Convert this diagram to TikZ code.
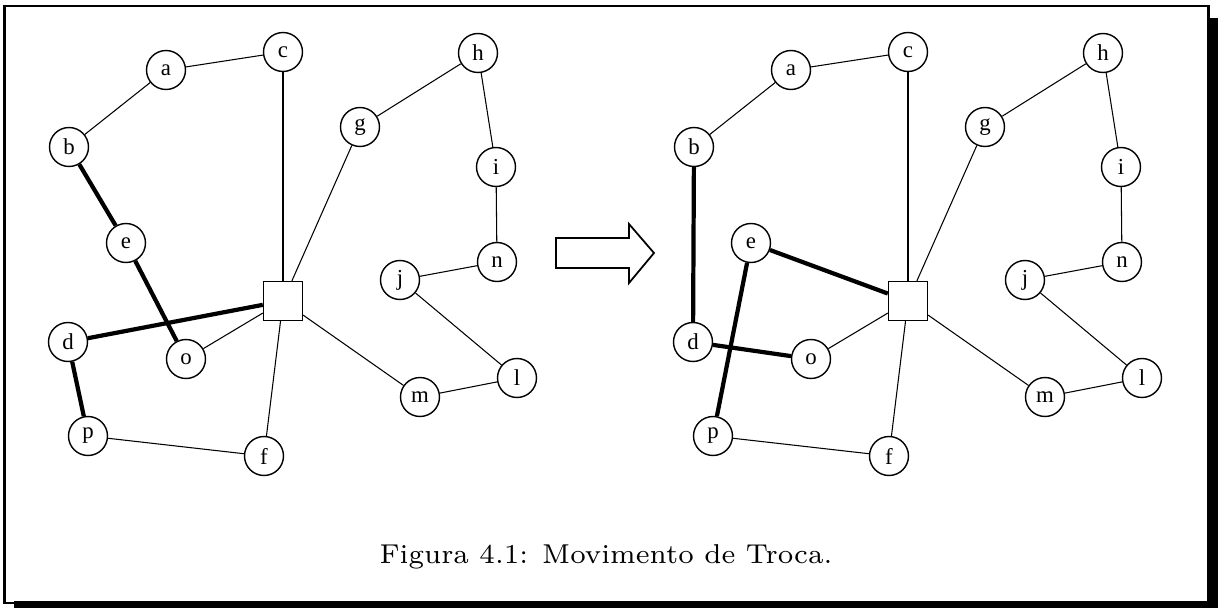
\documentclass[tikz,border=0pt]{standalone}
\usepackage{fontspec}
\newfontfamily\nodefont{Liberation Serif}
\usetikzlibrary{positioning}

\tikzset{
  vert/.style={circle, draw, line width=0.8pt, minimum size=0.78cm, inner sep=0pt,
    font=\nodefont\fontsize{13}{13}\selectfont},
  hub/.style={rectangle, draw, line width=0.8pt, minimum size=0.78cm, inner sep=0pt},
  link/.style={line width=0.6pt},
  moved/.style={line width=2.4pt},
}

\begin{document}
\begin{tikzpicture}[x=0.02cm, y=-0.02cm]
  \useasboundingbox (0,0) rectangle (1218,608);

  % Frame with shadow
  \draw[line width=1.7pt] (4.5,6) rectangle (1208,603);
  \fill (1208,18) rectangle (1218,608);
  \fill (14,601) rectangle (1218,608);

  % Both graphs: before (L) and after (R)
  \foreach \s/\dx in {L/0, R/625} {
    \begin{scope}[xshift=\dx*0.02cm]
      \node[vert] (\s a) at (166,70) {a};
      \node[vert] (\s b) at (69,147) {b};
      \node[vert] (\s c) at (283,52) {c};
      \node[vert] (\s d) at (68,342) {d};
      \node[vert] (\s e) at (126,243) {e};
      \node[vert] (\s f) at (264,456) {f};
      \node[vert] (\s g) at (360,127) {g};
      \node[vert] (\s h) at (478,53) {h};
      \node[vert] (\s i) at (496,167) {i};
      \node[vert] (\s j) at (400,280) {j};
      \node[vert] (\s l) at (517,378) {l};
      \node[vert] (\s m) at (420,397) {m};
      \node[vert] (\s n) at (497,262) {n};
      \node[vert] (\s o) at (186,359) {o};
      \node[vert] (\s p) at (88,436) {p};
      \node[hub] (\s sq) at (283,301) {};
    \end{scope}
    % Edges kept in both
    \foreach \u/\v in {a/c, a/b, c/sq, g/h, g/sq, h/i, i/n, n/j, j/l, l/m, m/sq, sq/o, sq/f, f/p}
      \draw[link] (\s\u) -- (\s\v);
  }

  % Edges of the exchange
  \foreach \u/\v in {b/e, e/o, d/sq, d/p}
    \draw[moved] (L\u) -- (L\v);
  \foreach \u/\v in {b/d, e/sq, e/p, d/o}
    \draw[moved] (R\u) -- (R\v);

  % Hollow arrow
  \draw[line width=1pt, line join=miter]
    (556,238) -- (629,238) -- (629,224) -- (654,253) -- (629,283) -- (629,268) -- (556,268) -- cycle;

  % Caption
  \node[anchor=base, inner sep=0pt] (cap) at (606,563)
    {\scalebox{2.22}{\fontsize{7}{8}\selectfont Figura 4.1: Movimento de Troca.}};
\end{tikzpicture}
\end{document}
